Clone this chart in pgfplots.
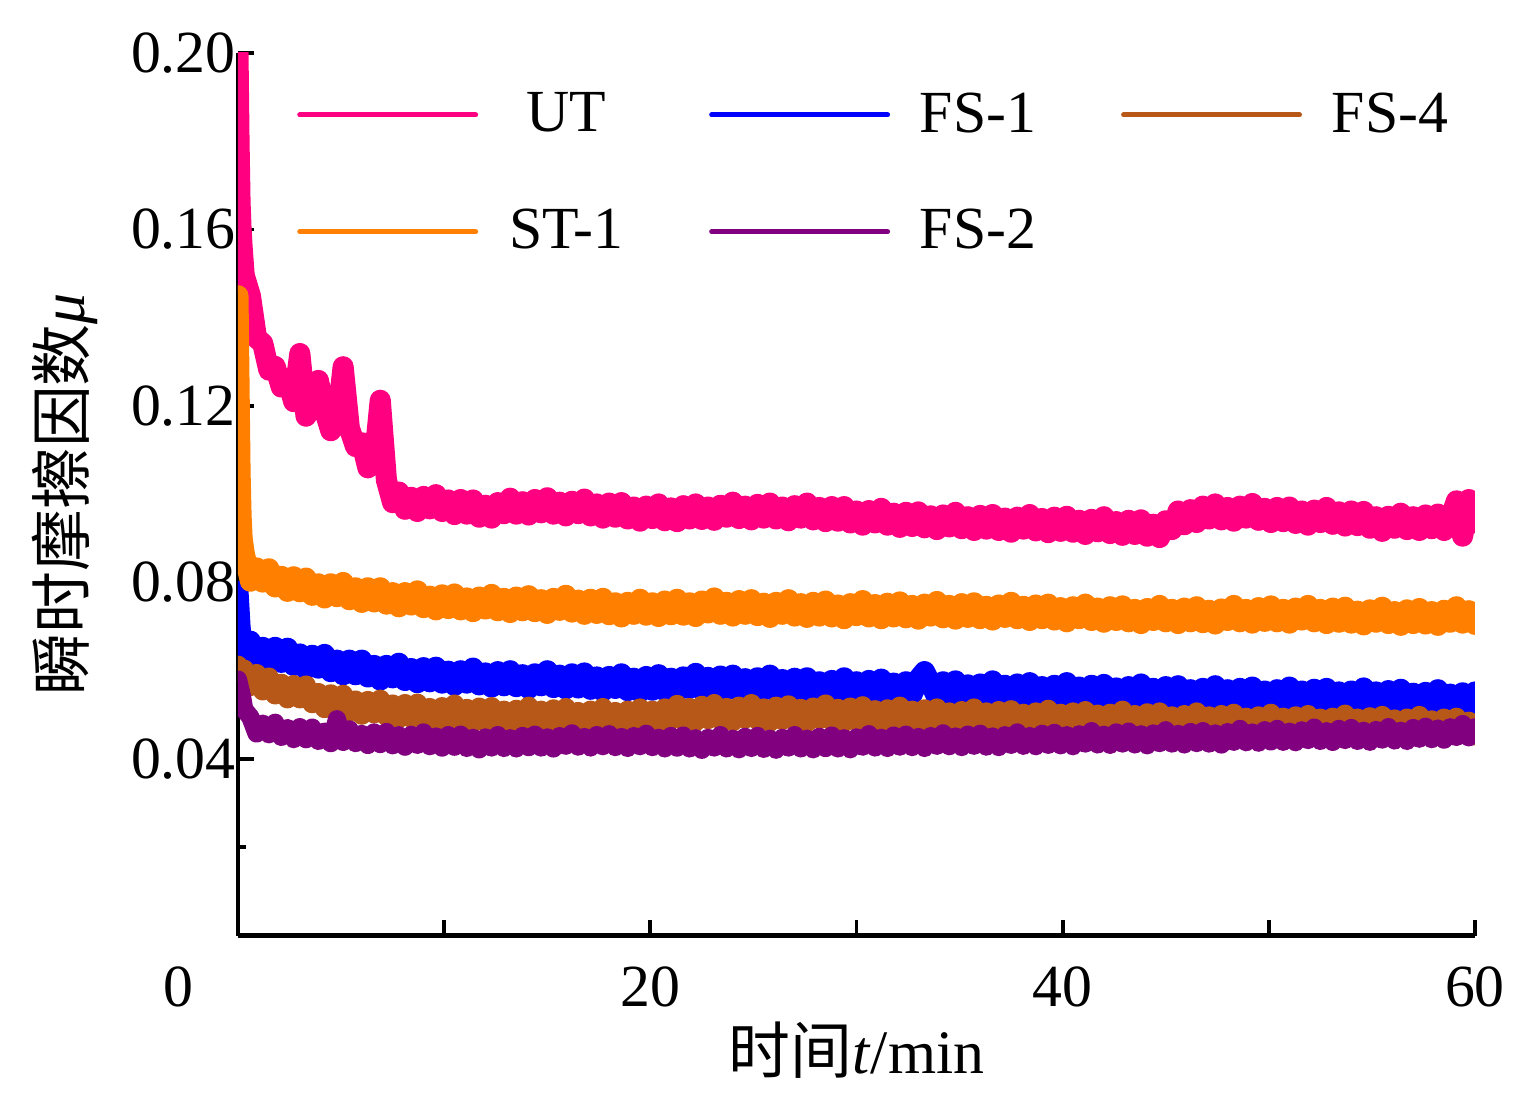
\documentclass[border=0pt]{standalone}
\usepackage{fontspec}
\setmainfont{Liberation Serif}
\newfontfamily\cjk{Noto Sans CJK SC}
\usepackage{pgfplots}
\usepackage{pgfplotstable}
\pgfplotsset{compat=1.18}
\definecolor{cUT}{RGB}{255,0,128}
\definecolor{cST}{RGB}{255,128,0}
\definecolor{cFSa}{RGB}{0,0,255}
\definecolor{cFSd}{RGB}{184,88,24}
\definecolor{cFSb}{RGB}{128,0,128}
\pgfplotstableread{
t UT ST FS1 FS4 FS2
0 0.2000 0.1450 0.0780 0.0612 0.0580
0.05 0.1800 0.1250 0.0740 0.0606 0.0570
0.1 0.1660 0.1050 0.0700 0.0600 0.0560
0.15 0.1600 0.0950 0.0675 0.0597 0.0550
0.2 0.1560 0.0900 0.0662 0.0594 0.0540
0.3 0.1496 0.0867 0.0640 0.0603 0.0512
0.6 0.1450 0.0803 0.0667 0.0565 0.0495
0.9 0.1354 0.0833 0.0628 0.0593 0.0458
1.2 0.1342 0.0801 0.0653 0.0555 0.0480
1.5 0.1281 0.0831 0.0620 0.0585 0.0456
1.8 0.1290 0.0790 0.0653 0.0546 0.0482
2.1 0.1243 0.0814 0.0619 0.0571 0.0450
2.4 0.1262 0.0780 0.0651 0.0537 0.0470
2.7 0.1210 0.0813 0.0612 0.0568 0.0445
3.0 0.1319 0.0779 0.0638 0.0537 0.0472
3.3 0.1177 0.0810 0.0604 0.0567 0.0445
3.6 0.1202 0.0771 0.0635 0.0526 0.0471
3.9 0.1258 0.0797 0.0606 0.0550 0.0441
4.2 0.1190 0.0765 0.0637 0.0515 0.0462
4.5 0.1144 0.0797 0.0598 0.0547 0.0436
4.8 0.1162 0.0768 0.0624 0.0514 0.0490
5.1 0.1289 0.0800 0.0591 0.0546 0.0439
5.4 0.1150 0.0761 0.0624 0.0507 0.0467
5.7 0.1108 0.0788 0.0591 0.0533 0.0436
6.0 0.1117 0.0755 0.0624 0.0500 0.0457
6.3 0.1060 0.0788 0.0586 0.0532 0.0432
6.6 0.1071 0.0756 0.0612 0.0503 0.0460
6.9 0.1213 0.0788 0.0579 0.0535 0.0434
7.2 0.1032 0.0751 0.0612 0.0497 0.0461
7.5 0.0981 0.0777 0.0584 0.0524 0.0431
7.8 0.1005 0.0745 0.0617 0.0492 0.0454
8.1 0.0966 0.0777 0.0578 0.0525 0.0428
8.4 0.0993 0.0749 0.0605 0.0493 0.0455
8.7 0.0961 0.0781 0.0573 0.0526 0.0432
9.0 0.0995 0.0743 0.0607 0.0489 0.0460
9.3 0.0967 0.0769 0.0575 0.0516 0.0429
9.6 0.0999 0.0738 0.0608 0.0484 0.0451
9.9 0.0961 0.0772 0.0572 0.0518 0.0426
10.2 0.0987 0.0741 0.0599 0.0490 0.0454
10.5 0.0954 0.0774 0.0567 0.0524 0.0428
10.8 0.0988 0.0738 0.0600 0.0486 0.0455
11.1 0.0955 0.0765 0.0572 0.0514 0.0425
11.4 0.0987 0.0734 0.0606 0.0482 0.0448
11.7 0.0948 0.0767 0.0568 0.0517 0.0422
12.0 0.0975 0.0740 0.0595 0.0485 0.0449
12.3 0.0946 0.0773 0.0563 0.0518 0.0426
12.6 0.0981 0.0736 0.0598 0.0482 0.0454
12.9 0.0956 0.0764 0.0566 0.0510 0.0425
13.2 0.0991 0.0732 0.0600 0.0479 0.0447
13.5 0.0955 0.0767 0.0564 0.0512 0.0424
13.8 0.0983 0.0736 0.0591 0.0485 0.0452
14.1 0.0953 0.0770 0.0560 0.0519 0.0427
14.4 0.0988 0.0734 0.0593 0.0482 0.0455
14.7 0.0958 0.0761 0.0566 0.0510 0.0426
15.0 0.0992 0.0730 0.0600 0.0478 0.0449
15.3 0.0955 0.0764 0.0562 0.0513 0.0424
15.6 0.0982 0.0737 0.0590 0.0482 0.0452
15.9 0.0951 0.0771 0.0559 0.0516 0.0430
16.2 0.0984 0.0733 0.0593 0.0480 0.0458
16.5 0.0956 0.0760 0.0561 0.0507 0.0428
16.8 0.0989 0.0728 0.0595 0.0476 0.0450
17.1 0.0951 0.0762 0.0558 0.0510 0.0426
17.4 0.0978 0.0730 0.0586 0.0482 0.0454
17.7 0.0946 0.0764 0.0554 0.0516 0.0429
18.0 0.0980 0.0727 0.0587 0.0479 0.0456
18.3 0.0948 0.0754 0.0560 0.0507 0.0427
18.6 0.0981 0.0722 0.0593 0.0475 0.0450
18.9 0.0944 0.0755 0.0555 0.0510 0.0425
19.2 0.0971 0.0728 0.0583 0.0480 0.0452
19.5 0.0939 0.0762 0.0552 0.0515 0.0429
19.8 0.0973 0.0726 0.0587 0.0480 0.0457
20.1 0.0945 0.0754 0.0556 0.0510 0.0427
20.4 0.0978 0.0723 0.0591 0.0480 0.0448
20.7 0.0940 0.0758 0.0555 0.0515 0.0424
21.0 0.0969 0.0727 0.0583 0.0489 0.0452
21.3 0.0938 0.0762 0.0552 0.0523 0.0426
21.6 0.0974 0.0726 0.0586 0.0487 0.0453
21.9 0.0944 0.0754 0.0560 0.0516 0.0424
22.2 0.0978 0.0723 0.0594 0.0485 0.0447
22.5 0.0943 0.0758 0.0557 0.0521 0.0421
22.8 0.0971 0.0731 0.0585 0.0490 0.0448
23.1 0.0941 0.0765 0.0554 0.0525 0.0426
23.4 0.0975 0.0728 0.0588 0.0489 0.0454
23.7 0.0948 0.0755 0.0557 0.0516 0.0424
24.0 0.0982 0.0724 0.0590 0.0485 0.0446
24.3 0.0945 0.0759 0.0554 0.0519 0.0422
24.6 0.0973 0.0728 0.0582 0.0491 0.0450
24.9 0.0942 0.0761 0.0550 0.0525 0.0425
25.2 0.0977 0.0725 0.0584 0.0488 0.0452
25.5 0.0946 0.0753 0.0556 0.0515 0.0423
25.8 0.0980 0.0721 0.0590 0.0484 0.0446
26.1 0.0944 0.0755 0.0552 0.0519 0.0421
26.4 0.0971 0.0728 0.0580 0.0488 0.0448
26.7 0.0940 0.0761 0.0548 0.0522 0.0426
27.0 0.0974 0.0724 0.0583 0.0486 0.0454
27.3 0.0946 0.0752 0.0551 0.0514 0.0424
27.6 0.0980 0.0721 0.0584 0.0483 0.0446
27.9 0.0942 0.0755 0.0548 0.0517 0.0422
28.2 0.0970 0.0724 0.0575 0.0490 0.0450
28.5 0.0938 0.0758 0.0544 0.0524 0.0425
28.8 0.0972 0.0722 0.0578 0.0486 0.0453
29.1 0.0939 0.0749 0.0550 0.0514 0.0424
29.4 0.0972 0.0718 0.0584 0.0483 0.0447
29.7 0.0935 0.0752 0.0547 0.0517 0.0422
30.0 0.0962 0.0725 0.0575 0.0486 0.0449
30.3 0.0930 0.0759 0.0543 0.0520 0.0428
30.6 0.0963 0.0722 0.0578 0.0483 0.0456
30.9 0.0935 0.0750 0.0547 0.0511 0.0426
31.2 0.0968 0.0718 0.0581 0.0480 0.0448
31.5 0.0930 0.0753 0.0544 0.0513 0.0425
31.8 0.0957 0.0722 0.0572 0.0486 0.0453
32.1 0.0925 0.0756 0.0541 0.0519 0.0428
32.4 0.0959 0.0720 0.0575 0.0482 0.0455
32.7 0.0927 0.0748 0.0547 0.0510 0.0427
33.0 0.0960 0.0717 0.0581 0.0478 0.0450
33.3 0.0924 0.0751 0.0598 0.0513 0.0425
33.6 0.0951 0.0724 0.0571 0.0481 0.0452
33.9 0.0920 0.0757 0.0540 0.0515 0.0430
34.2 0.0953 0.0720 0.0575 0.0479 0.0458
34.5 0.0926 0.0748 0.0543 0.0506 0.0429
34.8 0.0959 0.0717 0.0577 0.0475 0.0451
35.1 0.0922 0.0752 0.0541 0.0509 0.0427
35.4 0.0949 0.0721 0.0568 0.0482 0.0455
35.7 0.0918 0.0754 0.0537 0.0515 0.0430
36.0 0.0952 0.0718 0.0570 0.0478 0.0457
36.3 0.0921 0.0746 0.0543 0.0506 0.0428
36.6 0.0954 0.0715 0.0577 0.0474 0.0451
36.9 0.0918 0.0749 0.0539 0.0509 0.0427
37.2 0.0946 0.0721 0.0567 0.0478 0.0454
37.5 0.0914 0.0755 0.0536 0.0511 0.0432
37.8 0.0948 0.0718 0.0570 0.0475 0.0460
38.1 0.0921 0.0746 0.0539 0.0503 0.0430
38.4 0.0954 0.0714 0.0573 0.0472 0.0452
38.7 0.0917 0.0749 0.0536 0.0506 0.0429
39.0 0.0945 0.0718 0.0564 0.0478 0.0457
39.3 0.0913 0.0751 0.0533 0.0512 0.0432
39.6 0.0948 0.0715 0.0567 0.0475 0.0459
39.9 0.0916 0.0743 0.0539 0.0503 0.0431
40.2 0.0950 0.0711 0.0573 0.0472 0.0454
40.5 0.0914 0.0745 0.0536 0.0506 0.0429
40.8 0.0941 0.0718 0.0563 0.0475 0.0456
41.1 0.0909 0.0751 0.0532 0.0509 0.0435
41.4 0.0943 0.0714 0.0567 0.0473 0.0463
41.7 0.0915 0.0742 0.0536 0.0501 0.0433
42.0 0.0949 0.0710 0.0569 0.0469 0.0455
42.3 0.0911 0.0745 0.0533 0.0503 0.0432
42.6 0.0938 0.0714 0.0561 0.0476 0.0460
42.9 0.0907 0.0747 0.0530 0.0510 0.0435
43.2 0.0941 0.0711 0.0564 0.0473 0.0462
43.5 0.0909 0.0739 0.0536 0.0500 0.0433
43.8 0.0942 0.0707 0.0570 0.0469 0.0456
44.1 0.0905 0.0741 0.0532 0.0504 0.0431
44.4 0.0932 0.0714 0.0560 0.0472 0.0458
44.7 0.0902 0.0748 0.0529 0.0506 0.0436
45.0 0.0940 0.0711 0.0564 0.0470 0.0465
45.3 0.0920 0.0739 0.0532 0.0497 0.0435
45.6 0.0962 0.0707 0.0566 0.0466 0.0457
45.9 0.0931 0.0742 0.0530 0.0500 0.0433
46.2 0.0965 0.0711 0.0557 0.0472 0.0461
46.5 0.0936 0.0745 0.0526 0.0506 0.0436
46.8 0.0973 0.0709 0.0560 0.0469 0.0463
47.1 0.0944 0.0737 0.0532 0.0497 0.0435
47.4 0.0978 0.0706 0.0566 0.0465 0.0458
47.7 0.0942 0.0740 0.0529 0.0500 0.0433
48.0 0.0970 0.0714 0.0557 0.0469 0.0461
48.3 0.0939 0.0748 0.0525 0.0503 0.0439
48.6 0.0973 0.0711 0.0560 0.0466 0.0468
48.9 0.0946 0.0739 0.0529 0.0494 0.0438
49.2 0.0979 0.0708 0.0563 0.0463 0.0460
49.5 0.0941 0.0743 0.0527 0.0497 0.0437
49.8 0.0968 0.0712 0.0554 0.0469 0.0465
50.1 0.0936 0.0747 0.0523 0.0503 0.0440
50.4 0.0970 0.0711 0.0557 0.0466 0.0468
50.7 0.0938 0.0739 0.0530 0.0494 0.0439
51.0 0.0971 0.0708 0.0563 0.0462 0.0462
51.3 0.0934 0.0742 0.0526 0.0497 0.0438
51.6 0.0962 0.0715 0.0554 0.0466 0.0465
51.9 0.0930 0.0748 0.0523 0.0500 0.0443
52.2 0.0964 0.0711 0.0558 0.0464 0.0471
52.5 0.0936 0.0739 0.0526 0.0492 0.0441
52.8 0.0970 0.0707 0.0560 0.0460 0.0463
53.1 0.0932 0.0742 0.0524 0.0494 0.0439
53.4 0.0960 0.0710 0.0552 0.0467 0.0468
53.7 0.0928 0.0744 0.0520 0.0501 0.0443
54.0 0.0962 0.0708 0.0554 0.0464 0.0470
54.3 0.0929 0.0735 0.0527 0.0492 0.0441
54.6 0.0961 0.0704 0.0561 0.0460 0.0464
54.9 0.0923 0.0738 0.0524 0.0495 0.0439
55.2 0.0949 0.0710 0.0552 0.0464 0.0466
55.5 0.0916 0.0744 0.0520 0.0498 0.0444
55.8 0.0950 0.0707 0.0555 0.0462 0.0472
56.1 0.0923 0.0734 0.0524 0.0490 0.0442
56.4 0.0957 0.0703 0.0558 0.0459 0.0464
56.7 0.0920 0.0738 0.0521 0.0492 0.0441
57.0 0.0949 0.0707 0.0549 0.0465 0.0470
57.3 0.0918 0.0741 0.0517 0.0498 0.0446
57.6 0.0953 0.0706 0.0551 0.0461 0.0473
57.9 0.0922 0.0734 0.0523 0.0488 0.0445
58.2 0.0955 0.0703 0.0557 0.0457 0.0469
58.5 0.0918 0.0737 0.0519 0.0492 0.0444
58.8 0.0944 0.0710 0.0547 0.0460 0.0472
59.1 0.0985 0.0745 0.0515 0.0494 0.0450
59.4 0.0905 0.0708 0.0550 0.0457 0.0479
59.7 0.0988 0.0736 0.0518 0.0485 0.0449
60.0 0.0935 0.0705 0.0552 0.0453 0.0472
}\datatab
\begin{document}
\begin{tikzpicture}
\useasboundingbox (-23.8mm,-18.35mm) rectangle (130.0mm,93.55mm);
\begin{axis}[
  at={(0,0)}, anchor=south west,
  scale only axis, width=123.7mm, height=88.25mm,
  xmin=0, xmax=60, ymin=0, ymax=0.2,
  axis lines*=left,
  axis line style={line width=1.15pt},
  tick align=inside,
  every tick/.style={black, line width=1.1pt},
  major tick length=1.6mm, minor tick length=0.8mm,
  xtick={10,20,30,40,50,60}, xticklabels={,20,,40,,60},
  extra x ticks={0}, extra x tick labels={0},
  extra x tick style={major tick length=0pt, xticklabel style={xshift=-6mm}},
  ytick={0.04,0.08,0.12,0.16,0.20}, yticklabels={0.04,0.08,0.12,0.16,0.20},
  minor ytick={0.02,0.06,0.10,0.14,0.18},
  scaled y ticks=false,
  tick label style={font=\fontsize{17}{20}\selectfont},
  xticklabel style={yshift=-1.85mm},
  yticklabel style={xshift=1mm},
  xlabel={{\cjk 时间}\textit{t}/min},
  ylabel={{\cjk 瞬时摩擦因数}\textit{μ}},
  label style={font=\fontsize{17.6}{20}\selectfont},
  xlabel style={at={(axis description cs:0.5,-0.1558)}, anchor=base},
  ylabel style={at={(axis description cs:-0.1237,0.5)}, anchor=base},
  legend columns=3,
  legend image code/.code={\draw[line width=1.4pt, line cap=round] (0mm,0mm) -- (17.6mm,0mm);},
  legend style={draw=none, fill=none, at={(axis cs:2.84,0.1912)}, anchor=north west,
    inner sep=0pt, row sep=7.2mm, font=\fontsize{17}{20}\selectfont,
    nodes={inner sep=0pt},
    /tikz/every even column/.append style={column sep=5.5mm}},
]
\addplot[cUT, line width=6pt, line join=round, line cap=round] table[x=t, y=UT] {\datatab};
\addlegendentry{\makebox[17.6mm]{UT}}
\addplot[cFSa, line width=6pt, line join=round, line cap=round] table[x=t, y=FS1] {\datatab};
\addlegendentry{\makebox[17.6mm]{FS-1}}
\addplot[cFSd, line width=5.6pt, line join=round, line cap=round] table[x=t, y=FS4] {\datatab};
\addlegendentry{\makebox[17.6mm]{FS-4}}
\addplot[cST, line width=6pt, line join=round, line cap=round] table[x=t, y=ST] {\datatab};
\addlegendentry{\makebox[17.6mm]{ST-1}}
\addplot[cFSb, line width=5.2pt, line join=round, line cap=round] table[x=t, y=FS2] {\datatab};
\addlegendentry{\makebox[17.6mm]{FS-2}}
\end{axis}
\end{tikzpicture}
\end{document}
